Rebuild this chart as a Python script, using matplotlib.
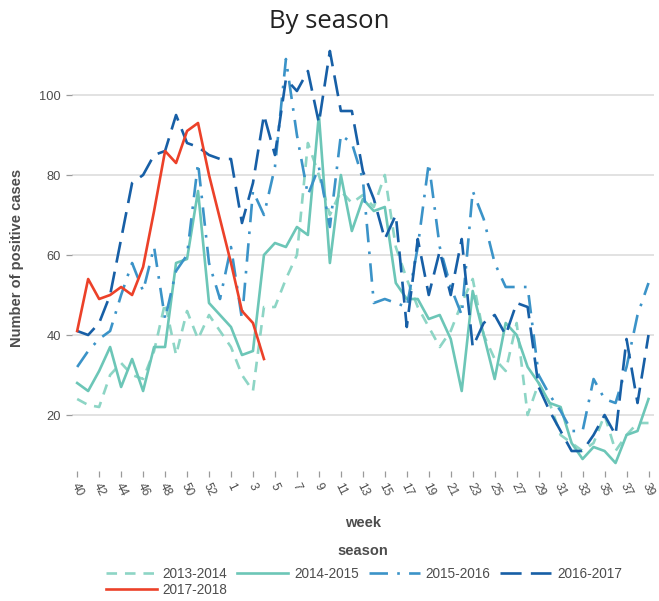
import matplotlib
matplotlib.use("Agg")
import matplotlib.pyplot as plt
import numpy as np

# weeks of a flu season: week 40 of one year to week 39 of the next
weeks = list(range(40, 54)) + list(range(1, 40))
tick_weeks = weeks[::2]

seasons = ["2013-2014", "2014-2015", "2015-2016", "2016-2017", "2017-2018"]

cases_2013_2014 = [24, 22.5, 22, 30, 33, 30, 29, 36, 48, 35, 46, 39, 45, 41, 37, 30, 26,
                   47, 47, 54, 60, 88, 80, 70, 76, 73, 75, 72, 80, 62, 54, 47, 42, 37, 41,
                   48, 54, 40, 34, 31, 43, 20, 28, 23, 15, 13, 11, 13, 20, 11, 15, 18, 18]
cases_2014_2015 = [28, 26, 31, 37, 27, 34, 26, 37, 37, 58, 59, 76, 48, 45, 42, 35, 36,
                   60, 63, 62, 67, 65, 95, 58, 80, 66, 74, 71, 72, 53, 49, 49, 44, 45, 39,
                   26, 51, 40, 29, 43, 40, 32, 28, 23, 22, 13, 9, 12, 11, 8, 15, 16, 24]
cases_2015_2016 = [32, 36, 39, 41, 50, 58, 51, 62, 44, 56, 60, 83, 58, 49, 62, 44, 76,
                   70, 82, 109, 90, 75, 82, 67, 90, 88, 79, 48, 49, 48, 47, 62, 83, 62, 52,
                   45, 76, 69, 58, 52, 52, 52, 30, 25, 21, 16, 16, 29, 24, 23, 32, 45, 53]
cases_2016_2017 = [41, 40, 43, 50, 64, 78, 80, 85, 86, 95, 88, 87, 85, 84, 84, 68, 78,
                   95, 85, 104, 101, 106, 93, 111, 96, 96, 81, 74, 64, 70, 42, 64, 50, 61, 50,
                   64, 37, 43, 45, 40, 48, 47, 27, 21, 16, 11, 11, 15, 20, 15, 39, 23, 40]
cases_2017_2018 = [41, 54, 49, 50, 52, 50, 57, 71, 86, 83, 91, 93, 80, 69, 58, 46, 43, 34]

series = [cases_2013_2014, cases_2014_2015, cases_2015_2016, cases_2016_2017, cases_2017_2018]
colors = ["#8dd5c5", "#6cc6b7", "#3b93c8", "#175fa6", "#ec4129"]
styles = [(0, (4, 3)), "-", (0, (7, 3.5, 1, 3.5)), (0, (8, 3.5)), "-"]

fig = plt.figure(figsize=(6.59, 6.01), dpi=100)
ax = fig.add_axes([72 / 659, 1 - 471 / 601, 582 / 659, 426 / 601])

x = np.arange(len(weeks))
handles = []
for name, vals, col, ls in zip(seasons, series, colors, styles):
    h, = ax.plot(x[:len(vals)], vals, color=col, linestyle=ls, linewidth=1.9, label=name)
    handles.append(h)

ax.set_xlim(-0.47, 52.5)
ax.set_ylim(6.0, 112.5)
ax.set_yticks([20, 40, 60, 80, 100])
ax.set_xticks(x[::2])
ax.set_xticklabels([str(w) for w in tick_weeks], rotation=-64, ha="center", va="top")
ax.grid(axis="y", color="#dadada", linewidth=1.1)
ax.grid(axis="x", visible=False)
ax.set_axisbelow(True)
for s in ax.spines.values():
    s.set_visible(False)
ax.tick_params(axis="both", colors="#9a9a9a", labelcolor="#4d4d4d", labelsize=9.3,
               length=4.5, width=0.9)
ax.tick_params(axis="x", pad=2.5, labelsize=8.6)

fig.text(0.5, 1 - 22 / 601, "By season", ha="center", va="center",
         fontsize=18.5, family="Open Sans", color="#222222")
fig.text(17 / 659, 1 - 258 / 601, "Number of positive cases", rotation=90,
         ha="center", va="center", fontsize=10.5, fontweight="bold", color="#4d4d4d",
         family="Liberation Sans")
fig.text(363 / 659, 1 - 523 / 601, "week", ha="center", va="center",
         fontsize=10.5, fontweight="bold", color="#4d4d4d", family="Liberation Sans")
fig.text(363 / 659, 1 - 551 / 601, "season", ha="center", va="center",
         fontsize=10.5, fontweight="bold", color="#4d4d4d", family="Liberation Sans")

# reorder so that rows fill left to right (matplotlib fills legend columns first)
order = [0, 4, 1, 2, 3]
leg = fig.legend([handles[i] for i in order], [seasons[i] for i in order],
                 loc="upper center", bbox_to_anchor=(364 / 659, 1 - 557 / 601),
                 ncol=4, frameon=False,
                 handlelength=3.75, handletextpad=0.43, columnspacing=0.72,
                 labelspacing=0.2, borderpad=0.2,
                 prop={"family": "Liberation Sans", "size": 9.8})
for t in leg.get_texts():
    t.set_color("#4d4d4d")

for lab in ax.get_xticklabels() + ax.get_yticklabels():
    lab.set_family("Liberation Sans")

fig.savefig("out.png", dpi=100)
